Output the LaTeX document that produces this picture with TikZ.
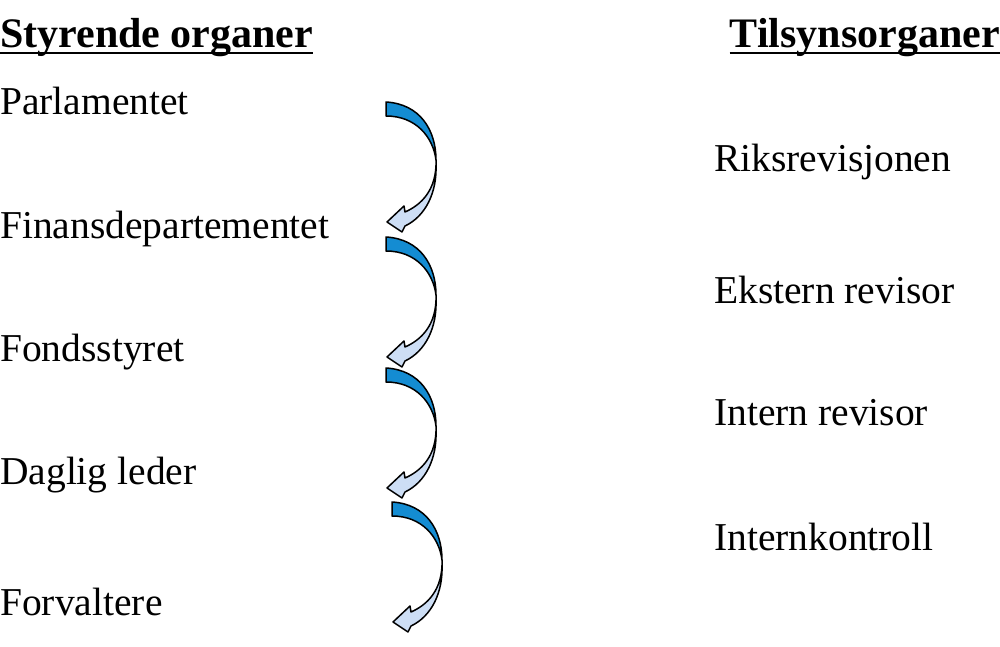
\documentclass[tikz,border=0pt]{standalone}
\usepackage{fontspec}
\setmainfont{Liberation Serif}
\begin{document}
\begin{tikzpicture}[x=1pt,y=-1pt,
  lbl/.style={anchor=west,inner sep=0pt,font=\fontsize{39.5}{42}\selectfont},
  hd/.style={lbl,font=\fontsize{42}{44}\selectfont\bfseries},
  ln/.style={line width=1.5pt,line join=round}]
\useasboundingbox (0,0) rectangle (1000,647);
\definecolor{dk}{RGB}{20,140,210}
\definecolor{lt}{RGB}{205,222,245}
\node[hd] (h1) at (0,38) {Styrende organer};
\draw[line width=2pt] ([yshift=-5pt]h1.base west) -- ([yshift=-5pt]h1.base east);
\node[hd,anchor=east] (h2) at (1000,38) {Tilsynsorganer};
\draw[line width=2pt] ([yshift=-5pt]h2.base west) -- ([yshift=-5pt]h2.base east);
\node[lbl] (a) at (0,101) {Parlamentet};
\node[lbl] (b) at (0,229) {Finansdepartementet};
\node[lbl] (c) at (0,352) {Fondsstyret};
\node[lbl] (d) at (0,475) {Daglig leder};
\node[lbl] (e) at (0,602) {Forvaltere};
\node[lbl] (r1) at (714,162) {Riksrevisjonen};
\node[lbl] (r2) at (714,290) {Ekstern revisor};
\node[lbl] (r3) at (714,413) {Intern revisor};
\node[lbl] (r4) at (714,537) {Internkontroll};
\tikzset{pics/carrow/.style={code={
  \filldraw[ln,fill=lt] (50,58) .. controls (51,88) and (35,103) .. (19,110)
    -- (18,104) -- (1,120) -- (16,130) -- (19,124)
    .. controls (40,114) and (51,90) .. (50,63) -- cycle;
  \filldraw[ln,fill=dk] (0,0) .. controls (34,2) and (50,28) .. (50,58)
    .. controls (47,35) and (30,14) .. (0,14) -- cycle;
}}}
\pic at (386,102) {carrow};
\pic at (386,237) {carrow};
\pic at (386,368) {carrow};
\pic at (392,502) {carrow};
\end{tikzpicture}
\end{document}
